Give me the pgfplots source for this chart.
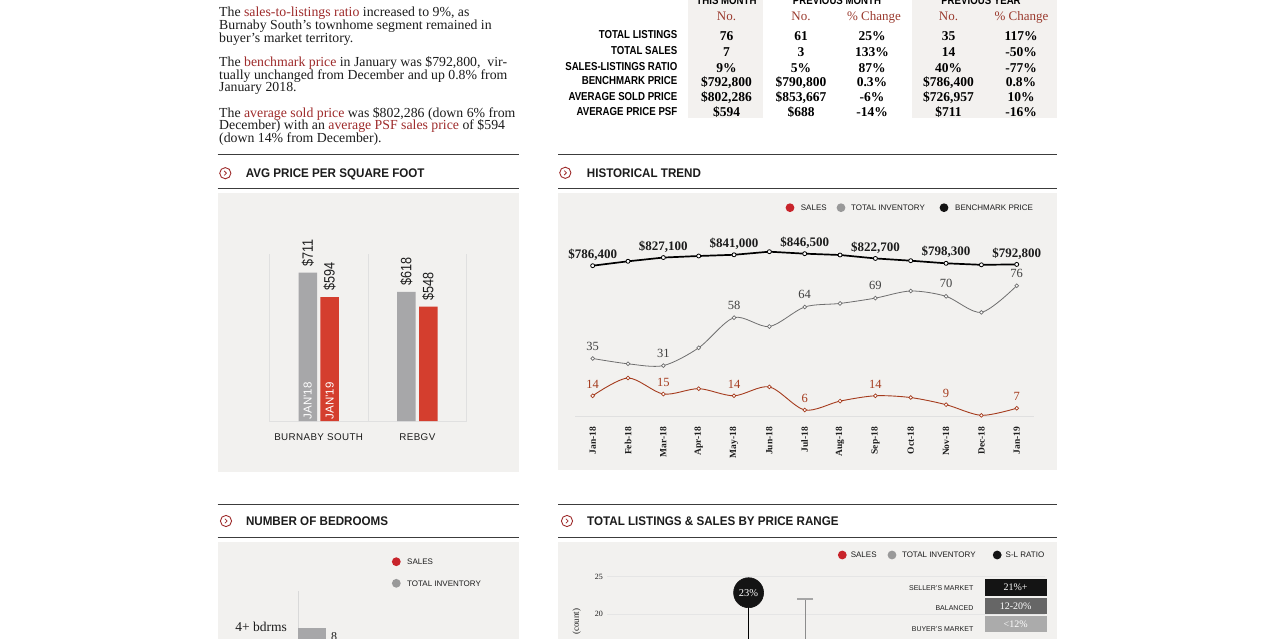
\documentclass[border=0pt]{standalone}
\usepackage{fontspec}
\usepackage{graphicx}
\setmainfont{Liberation Serif}
\newfontfamily\sansf{Liberation Sans}
\newfontfamily\hvy{Liberation Sans}[FakeStretch=0.84]
\newfontfamily\hdr{Liberation Sans}[FakeStretch=0.93]
\newfontfamily\spaced{Liberation Sans}[LetterSpace=4]
\usepackage{pgfplots}
\pgfplotsset{compat=1.18, /pgf/number format/assume math mode=true}

\definecolor{panel}{HTML}{F2F1EF}
\definecolor{tblshade}{HTML}{F3F1EF}
\definecolor{linkred}{HTML}{9E2B2B}
\definecolor{hdrred}{HTML}{9A3A2E}
\definecolor{rulegray}{HTML}{3C3C3C}
\definecolor{bargray}{HTML}{A7A7A9}
\definecolor{barred}{HTML}{D43E2E}
\definecolor{salesln}{HTML}{A53B1D}
\definecolor{invln}{HTML}{6E6E6E}
\definecolor{dotred}{HTML}{C8242B}
\definecolor{dotgray}{HTML}{999999}
\definecolor{ink}{HTML}{1C1C1C}

\newcommand{\fs}[1]{\fontsize{#1}{#1}\selectfont}
\newcommand{\icon}[2]{%
  \draw[linkred, line width=0.9pt] (#1,#2) circle (5.6pt);
  \draw[linkred, line width=0.8pt] (#1-1.1,#2-2.2) -- (#1+1.1,#2) -- (#1-1.1,#2+2.2);}
\newcommand{\trow}[7]{%
  \node[anchor=base east, font=\hvy\bfseries\fs{11.5}] at (677.5,#1-1.5) {#2};
  \node[anchor=base, font=\bfseries\fs{13.5}] at (726.5,#1) {#3};
  \node[anchor=base, font=\bfseries\fs{13.5}] at (801,#1) {#4};
  \node[anchor=base, font=\bfseries\fs{13.5}] at (872,#1) {#5};
  \node[anchor=base, font=\bfseries\fs{13.5}] at (948.5,#1) {#6};
  \node[anchor=base, font=\bfseries\fs{13.5}] at (1021,#1) {#7};}
\newcommand{\up}[1]{\rotatebox{90}{#1}}

\begin{document}
\begin{tikzpicture}
\useasboundingbox (0pt,0pt) rectangle (1275pt,638pt);
\clip (0pt,0pt) rectangle (1275pt,638pt);
\fill[white] (0pt,0pt) rectangle (1275pt,638pt);

% backgrounds and rules (y measured from the top)
\begin{scope}[x=1pt, y=1pt, shift={(0pt,638pt)}, yscale=-1]
  \fill[tblshade] (688,-2) rectangle (763,118.5);
  \fill[tblshade] (911.7,-2) rectangle (1056.7,118.5);
  \fill[panel] (217.5,193.3) rectangle (518.5,471.5);
  \fill[panel] (558.3,193.3) rectangle (1056.7,470);
  \fill[panel] (217.5,541.5) rectangle (518.5,645);
  \fill[panel] (558.3,541.5) rectangle (1056.7,645);
  \foreach \yy in {154.3,188.3,504.3,537.7} {
    \draw[rulegray, line width=1.1pt] (217.5,\yy) -- (518.5,\yy);
    \draw[rulegray, line width=1.1pt] (558.3,\yy) -- (1056.7,\yy);}
\end{scope}

% avg price per square foot
\begin{axis}[at={(269.3pt,217pt)}, anchor=south west, scale only axis,
  width=197.4pt, height=167pt, xmin=-0.5, xmax=1.5, ymin=0, ymax=800,
  axis line style={draw=none}, major tick length=0pt,
  xtick={0,1}, xticklabels={BURNABY SOUTH,REBGV},
  xticklabel style={font=\spaced\fs{9.8}, text=ink, inner sep=0pt, anchor=north, yshift=-12.3pt},
  ytick=\empty,
  extra x ticks={-0.5,0.5,1.5}, extra x tick labels={},
  extra x tick style={grid=major, major grid style={draw=black!12, line width=0.6pt}},
  extra y ticks={0}, extra y tick labels={},
  extra y tick style={grid=major, major grid style={draw=black!12, line width=0.6pt}},
  clip=false]
\addplot[ybar, bar width=18.5pt, bar shift=-10.9pt, fill=bargray, draw=none,
  nodes near coords={\up{\$\pgfmathprintnumber{\pgfplotspointmeta}}},
  every node near coord/.append style={anchor=south, inner sep=0pt, xshift=-10.9pt, yshift=6pt, font=\hvy\fs{15}, text=ink}]
  coordinates {(0,711) (1,618)};
\addplot[ybar, bar width=18.5pt, bar shift=10.9pt, fill=barred, draw=none,
  nodes near coords={\up{\$\pgfmathprintnumber{\pgfplotspointmeta}}},
  every node near coord/.append style={anchor=south, inner sep=0pt, xshift=10.9pt, yshift=6pt, font=\hvy\fs{15}, text=ink}]
  coordinates {(0,594) (1,548)};
\node[anchor=south, inner sep=0pt, font=\sansf\fs{11.5}, text=white] at ([xshift=-10.9pt,yshift=1.5pt]axis cs:0,0) {\up{JAN’18}};
\node[anchor=south, inner sep=0pt, font=\sansf\fs{11.5}, text=white] at ([xshift=10.9pt,yshift=1.5pt]axis cs:0,0) {\up{JAN’19}};
\end{axis}

% historical trend: sales and inventory
\begin{axis}[at={(575pt,221.3pt)}, anchor=south west, scale only axis,
  width=459.4pt, height=186.7pt, xmin=-0.5, xmax=12.5, ymin=2.22, ymax=107.35,
  axis x line*=bottom, axis y line=none, x axis line style={draw=black!12, line width=0.6pt},
  major tick length=0pt, xtick={0,...,12},
  xticklabels={\up{Jan-18},\up{Feb-18},\up{Mar-18},\up{Apr-18},\up{May-18},\up{Jun-18},\up{Jul-18},
    \up{Aug-18},\up{Sep-18},\up{Oct-18},\up{Nov-18},\up{Dec-18},\up{Jan-19}},
  xticklabel style={anchor=north, inner sep=0pt, yshift=-10pt, font=\bfseries\fs{9.5}, text=ink},
  clip=false]
\addplot[invln, line width=0.8pt, smooth, mark=*, mark size=1.9pt,
  mark options={fill=white, draw=invln, line width=0.7pt},
  point meta=explicit symbolic, nodes near coords={\pgfplotspointmeta},
  every node near coord/.append style={font=\fs{12.5}, text=black!75, anchor=south, inner sep=0pt, yshift=8pt, text depth=0pt}]
  table[meta=lab] {
x y lab
0 35 35
1 32 {}
2 31 31
3 41 {}
4 58 58
5 53 {}
6 64 64
7 66 {}
8 69 69
9 73 {}
10 70 70
11 61 {}
12 76 76
};
\addplot[salesln, line width=0.9pt, smooth, mark=*, mark size=1.9pt,
  mark options={fill=white, draw=salesln, line width=0.7pt},
  point meta=explicit symbolic, nodes near coords={\pgfplotspointmeta},
  every node near coord/.append style={font=\fs{12.5}, text=salesln, anchor=south, inner sep=0pt, yshift=7pt, text depth=0pt}]
  table[meta=lab] {
x y lab
0 14 14
1 24 {}
2 15 15
3 18 {}
4 14 14
5 19 {}
6 6 6
7 11 {}
8 14 14
9 13 {}
10 9 9
11 3 {}
12 7 7
};
\end{axis}

% historical trend: benchmark price
\begin{axis}[at={(575pt,221.3pt)}, anchor=south west, scale only axis,
  width=459.4pt, height=186.7pt, xmin=-0.5, xmax=12.5, ymin=31400, ymax=964900,
  hide axis, clip=false]
\addplot[black, line width=1.7pt, mark=*, mark size=2pt,
  mark options={fill=white, draw=black, line width=0.8pt},
  point meta=explicit symbolic, nodes near coords={\pgfplotspointmeta},
  every node near coord/.append style={font=\bfseries\fs{13}, text=ink, anchor=south, inner sep=0pt, yshift=7pt, text depth=0pt}]
  table[meta=lab] {
x y lab
0 786400 {\$786,400}
1 808400 {}
2 827100 {\$827,100}
3 834900 {}
4 841000 {\$841,000}
5 856400 {}
6 846500 {\$846,500}
7 839900 {}
8 822700 {\$822,700}
9 811400 {}
10 798300 {\$798,300}
11 790800 {}
12 792800 {\$792,800}
};
\end{axis}

% number of bedrooms
\begin{axis}[at={(298pt,-62pt)}, anchor=south west, scale only axis,
  width=200pt, height=109pt, xmin=0, xmax=57.14, ymin=0, ymax=109,
  axis x line=none, axis y line*=left, y axis line style={draw=black!15, line width=0.6pt},
  major tick length=0pt, xtick=\empty, ytick={73}, yticklabels={4+ bdrms},
  yticklabel style={font=\fs{13.5}, text=ink, anchor=east, inner sep=0pt, xshift=-11pt},
  clip=false]
\addplot[xbar, bar width=18pt, bar shift=0pt, fill=bargray, draw=none,
  nodes near coords, nodes near coords align={horizontal},
  every node near coord/.append style={font=\fs{12}, text=ink, inner xsep=5pt}]
  coordinates {(8,63)};
\end{axis}

% total listings and sales by price range
\begin{axis}[at={(607pt,-51.5pt)}, anchor=south west, scale only axis,
  width=438pt, height=112.8pt, xmin=0, xmax=438, ymin=10, ymax=25,
  axis line style={draw=none}, major tick length=0pt, xtick=\empty,
  ytick={20,25}, ymajorgrids, grid style={draw=black!10, line width=0.5pt},
  yticklabel style={font=\fs{8}, text=ink, inner sep=0pt, xshift=-4pt}]
\addplot[ycomb, black, line width=0.6pt, mark=*, mark size=15pt,
  mark options={fill=black!92, draw=black!92},
  nodes near coords={23\%},
  every node near coord/.append style={anchor=center, text=white, font=\fs{10.5}}]
  coordinates {(141.6,22.87)};
\addplot[ycomb, black!45, line width=0.6pt, mark=-, mark size=8.3pt,
  mark options={line width=2.6pt, draw=black!35}]
  coordinates {(197.8,22.03)};
\end{axis}

% texts
\begin{scope}[x=1pt, y=1pt, shift={(0pt,638pt)}, yscale=-1, every node/.style={inner sep=0pt}]
  % intro paragraphs
  \begin{scope}[every node/.style={inner sep=0pt, anchor=base west, font=\fs{13.8}, text=ink}]
  \node at (219,17) {The \textcolor{linkred}{sales-to-listings ratio} increased to 9\%, as};
  \node at (219,29.8) {Burnaby South’s townhome segment remained in};
  \node at (219,42.5) {buyer’s market territory.};
  \node at (219,66.5) {The \textcolor{linkred}{benchmark price} in January was \$792,800,\ \ vir-};
  \node at (219,79.3) {tually unchanged from December and up 0.8\% from};
  \node at (219,92) {January 2018.};
  \node at (219,117.3) {The \textcolor{linkred}{average sold price} was \$802,286 (down 6\% from};
  \node at (219,130) {December) with an \textcolor{linkred}{average PSF sales price} of \$594};
  \node at (219,142.8) {(down 14\% from December).};
  \end{scope}

  % table
  \node[anchor=base, font=\hvy\bfseries\fs{11.5}] at (726.5,5) {THIS MONTH};
  \node[anchor=base, font=\hvy\bfseries\fs{11.5}] at (837,5) {PREVIOUS MONTH};
  \node[anchor=base, font=\hvy\bfseries\fs{11.5}] at (981,5) {PREVIOUS YEAR};
  \node[anchor=base, font=\fs{13}, text=hdrred] at (726.5,20.5) {No.};
  \node[anchor=base, font=\fs{13}, text=hdrred] at (801,20.5) {No.};
  \node[anchor=base, font=\fs{13}, text=hdrred] at (874,20.5) {\% Change};
  \node[anchor=base, font=\fs{13}, text=hdrred] at (948.5,20.5) {No.};
  \node[anchor=base, font=\fs{13}, text=hdrred] at (1021.5,20.5) {\% Change};
  \trow{40.5}{TOTAL LISTINGS}{76}{61}{25\%}{35}{117\%}
  \trow{56.3}{TOTAL SALES}{7}{3}{133\%}{14}{-50\%}
  \trow{72.3}{SALES-LISTINGS RATIO}{9\%}{5\%}{87\%}{40\%}{-77\%}
  \trow{86.3}{BENCHMARK PRICE}{\$792,800}{\$790,800}{0.3\%}{\$786,400}{0.8\%}
  \trow{101.7}{AVERAGE SOLD PRICE}{\$802,286}{\$853,667}{-6\%}{\$726,957}{10\%}
  \trow{116.7}{AVERAGE PRICE PSF}{\$594}{\$688}{-14\%}{\$711}{-16\%}

  % section headings
  \icon{225.3}{173.2}
  \icon{565.3}{172.8}
  \icon{226}{521}
  \icon{567}{521}
  \node[anchor=base west, font=\hdr\bfseries\fs{12.5}, text=ink] at (245.7,177.4) {AVG PRICE PER SQUARE FOOT};
  \node[anchor=base west, font=\hdr\bfseries\fs{12.5}, text=ink] at (586.7,177.2) {HISTORICAL TREND};
  \node[anchor=base west, font=\hdr\bfseries\fs{12.5}, text=ink] at (245.8,525.6) {NUMBER OF BEDROOMS};
  \node[anchor=base west, font=\hdr\bfseries\fs{12.5}, text=ink] at (587,525.6) {TOTAL LISTINGS \& SALES BY PRICE RANGE};

  % legends
  \begin{scope}[every node/.style={inner sep=0pt, anchor=base west, font=\sansf\fs{8}, text=ink}]
  \fill[dotred] (790,207.7) circle (4.4pt);   \node at (800.7,210.6) {SALES};
  \fill[dotgray] (841,207.7) circle (4.4pt);  \node at (851,210.6) {TOTAL INVENTORY};
  \fill[black!92] (944,207.7) circle (4.4pt); \node at (955,210.6) {BENCHMARK PRICE};
  \fill[dotred] (396.3,561.7) circle (4.4pt); \node at (407,564.6) {SALES};
  \fill[dotgray] (396.3,583.3) circle (4.4pt); \node at (407,586.2) {TOTAL INVENTORY};
  \fill[dotred] (842.3,555) circle (4.4pt);   \node at (850.6,557.9) {SALES};
  \fill[dotgray] (892,555) circle (4.4pt);    \node at (901.8,557.9) {TOTAL INVENTORY};
  \fill[black!92] (997.2,555) circle (4.4pt); \node at (1005.5,557.9) {S-L RATIO};
  \end{scope}

  % market legend
  \fill[black!92] (984.5,579.3) rectangle (1046.8,595.7);
  \fill[black!60] (984.5,597.7) rectangle (1046.8,614);
  \fill[black!33] (984.5,616) rectangle (1046.8,631.7);
  \node[font=\fs{10}, text=white, anchor=center] at (1015.6,587.5) {21\%+};
  \node[font=\fs{10}, text=white, anchor=center] at (1015.6,605.9) {12-20\%};
  \node[font=\fs{10}, text=white, anchor=center] at (1015.6,623.9) {<12\%};
  \node[font=\sansf\fs{7}, text=ink, anchor=base east] at (973.5,590.2) {SELLER’S MARKET};
  \node[font=\sansf\fs{7}, text=ink, anchor=base east] at (973.5,610.2) {BALANCED};
  \node[font=\sansf\fs{7}, text=ink, anchor=base east] at (973.5,631.5) {BUYER’S MARKET};
  \node[font=\fs{9}, text=ink, rotate=90, anchor=center] at (576.6,621.7) {(count)};
\end{scope}
\end{tikzpicture}
\end{document}
